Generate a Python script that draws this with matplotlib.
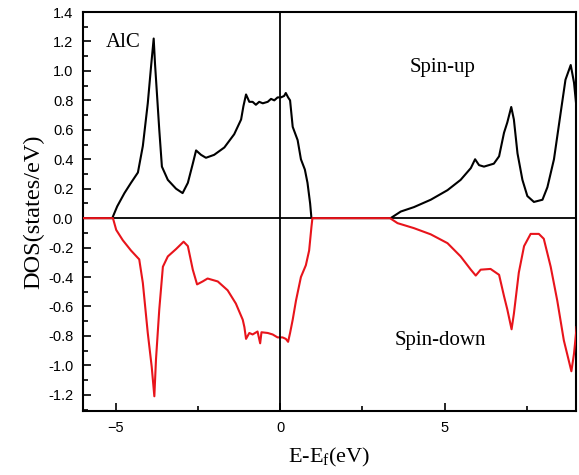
import matplotlib
matplotlib.use("Agg")
import matplotlib.pyplot as plt
from matplotlib.ticker import MultipleLocator

# Spin-up DOS of AlC (states/eV) vs E-Ef (eV)
energy_up = [-6.0, -5.11, -4.96, -4.74, -4.54, -4.33, -4.18, -4.03, -3.93, -3.85,
             -3.81, -3.68, -3.60, -3.42, -3.17, -2.97, -2.81, -2.66, -2.56, -2.41,
             -2.26, -2.01, -1.70, -1.40, -1.19, -1.12, -1.04, -0.94, -0.84, -0.74,
             -0.64, -0.53, -0.38, -0.28, -0.18, -0.08, 0.02, 0.12, 0.17, 0.24,
             0.30, 0.38, 0.53, 0.63, 0.75, 0.83, 0.91, 0.95, 3.36, 3.67,
             4.07, 4.58, 5.09, 5.49, 5.80, 5.93, 6.05, 6.20, 6.50, 6.66,
             6.81, 6.91, 7.03, 7.11, 7.22, 7.37, 7.52, 7.72, 7.98, 8.13,
             8.33, 8.53, 8.68, 8.84, 8.94, 9.02]
dos_up = [0.0, 0.0, 0.08, 0.17, 0.24, 0.31, 0.49, 0.78, 1.03, 1.22,
          1.05, 0.60, 0.35, 0.26, 0.20, 0.17, 0.24, 0.37, 0.46, 0.43,
          0.41, 0.43, 0.48, 0.57, 0.67, 0.76, 0.84, 0.79, 0.79, 0.77,
          0.79, 0.78, 0.79, 0.81, 0.80, 0.82, 0.82, 0.83, 0.85, 0.82,
          0.80, 0.62, 0.53, 0.40, 0.33, 0.24, 0.10, 0.0, 0.0, 0.045,
          0.075, 0.125, 0.19, 0.26, 0.34, 0.40, 0.36, 0.35, 0.37, 0.42,
          0.58, 0.65, 0.755, 0.67, 0.44, 0.26, 0.15, 0.11, 0.125, 0.21,
          0.40, 0.71, 0.94, 1.04, 0.92, 0.74]

# Spin-down DOS (negative by convention)
energy_down = [-6.0, -5.09, -4.99, -4.79, -4.54, -4.29, -4.18, -4.03, -3.91, -3.83,
               -3.78, -3.68, -3.57, -3.42, -3.17, -2.94, -2.81, -2.66, -2.53, -2.36,
               -2.21, -1.90, -1.60, -1.35, -1.14, -1.09, -1.04, -0.94, -0.84, -0.69,
               -0.61, -0.57, -0.38, -0.23, -0.08, 0.07, 0.17, 0.24, 0.30, 0.38,
               0.48, 0.63, 0.78, 0.88, 0.95, 0.98, 3.34, 3.57, 4.07, 4.58,
               5.09, 5.49, 5.80, 5.95, 6.10, 6.40, 6.66, 6.81, 6.91, 7.04,
               7.11, 7.26, 7.42, 7.62, 7.87, 8.02, 8.23, 8.43, 8.63, 8.86,
               8.94, 9.02]
dos_down = [0.0, 0.0, -0.08, -0.15, -0.22, -0.28, -0.44, -0.78, -1.01, -1.21,
            -0.96, -0.62, -0.33, -0.26, -0.21, -0.16, -0.19, -0.35, -0.45, -0.43,
            -0.41, -0.43, -0.49, -0.58, -0.69, -0.74, -0.82, -0.78, -0.79, -0.77,
            -0.85, -0.775, -0.78, -0.79, -0.81, -0.81, -0.82, -0.84, -0.78, -0.69,
            -0.56, -0.40, -0.32, -0.22, -0.06, 0.0, 0.0, -0.034, -0.068, -0.11,
            -0.17, -0.26, -0.35, -0.39, -0.35, -0.345, -0.385, -0.53, -0.62, -0.755,
            -0.65, -0.37, -0.19, -0.107, -0.107, -0.14, -0.33, -0.56, -0.83, -1.04,
            -0.92, -0.74]

x_ticks = [-5, 0, 5]
y_ticks = [-1.2, -1.0, -0.8, -0.6, -0.4, -0.2, 0.0, 0.2, 0.4, 0.6, 0.8, 1.0, 1.2, 1.4]

serif = ["Liberation Serif", "DejaVu Serif"]
sans = ["Liberation Sans", "DejaVu Sans"]

fig = plt.figure(figsize=(5.79, 4.75), dpi=100)
ax = fig.add_axes([0.1434, 0.1347, 0.8514, 0.8400])

ax.plot(energy_up, dos_up, color="black", lw=1.5, zorder=2)
ax.axhline(0, color="black", lw=1.3, zorder=2.5)
ax.axvline(0, color="black", lw=1.3, zorder=4)
ax.plot(energy_down, dos_down, color="#e8141b", lw=1.5, zorder=3)

ax.set_xlim(-6, 9)
ax.set_ylim(-1.31, 1.4)
ax.set_xticks(x_ticks)
ax.set_yticks(y_ticks)
ax.set_yticklabels([f"{v:.1f}" for v in y_ticks])
ax.xaxis.set_minor_locator(MultipleLocator(2.5))
ax.yaxis.set_minor_locator(MultipleLocator(0.1))
ax.tick_params(which="both", direction="in", top=False, right=False, width=1.2)
ax.tick_params(which="major", length=6, labelsize=10.5, pad=7)
ax.tick_params(which="minor", length=3.5)
for lab in ax.get_xticklabels() + ax.get_yticklabels():
    lab.set_family(sans)
for s in ax.spines.values():
    s.set_linewidth(1.5)

ax.set_xlabel(r"E-E$_\mathregular{f}$(eV)", family=serif, fontsize=16, labelpad=8)
ax.set_ylabel("DOS(states/eV)", family=serif, fontsize=17.5, labelpad=3)

ax.text(-5.3, 1.19, "AlC", family=serif, fontsize=15, va="center", ha="left")
ax.text(4.94, 1.02, "Spin-up", family=serif, fontsize=15, va="center", ha="center")
ax.text(4.88, -0.83, "Spin-down", family=serif, fontsize=15, va="center", ha="center")

fig.savefig("out.png", dpi=100)
